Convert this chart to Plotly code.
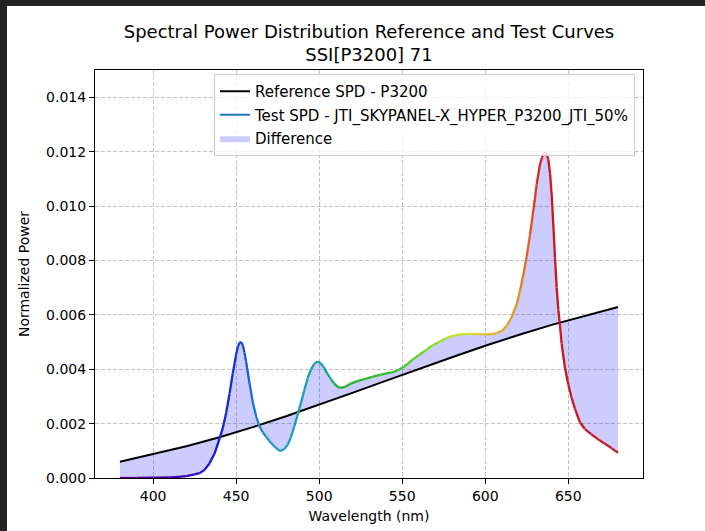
import plotly.graph_objects as go

# ---------------- data ----------------
ref_wl = [380, 400, 420, 440, 460, 480, 500, 520, 540, 560, 580, 600, 620, 640, 660, 680]
ref_val = [0.00060, 0.00088, 0.00117, 0.00150, 0.00187, 0.00227, 0.00269, 0.00313,
           0.00357, 0.00401, 0.00444, 0.00486, 0.00526, 0.00563, 0.00597, 0.00629]

test_wl = [380, 390, 400, 410, 415, 420, 425, 428, 431, 434, 437, 440, 442, 444, 446, 448,
           450, 451, 452, 453, 454, 455, 456, 458, 460, 462, 464, 466, 468, 470, 473, 476,
           477, 479, 481, 483, 485, 487, 489, 491, 493, 495, 497, 499, 501, 503, 505, 507,
           509, 511, 513, 516, 519, 523, 527, 532, 537, 543, 547, 550, 553, 556, 560, 564,
           568, 572, 576, 580, 584, 588, 592, 596, 600, 604, 607, 610, 613, 616, 619, 621,
           623, 625, 627, 629, 631, 633, 635, 636, 637, 638, 639, 640, 641, 642, 643, 644,
           645, 646, 648, 650, 652, 654, 657, 660, 664, 668, 672, 676, 680]
test_val = [0.00000, 0.00000, 0.00001, 0.00002, 0.00004, 0.00007, 0.00013, 0.00018, 0.00030,
            0.00054, 0.00090, 0.00145, 0.00185, 0.00240, 0.00310, 0.00385, 0.00455, 0.00482,
            0.00498, 0.00500, 0.00488, 0.00462, 0.00428, 0.00350, 0.00280, 0.00228, 0.00190,
            0.00168, 0.00152, 0.00136, 0.00116, 0.00101, 0.00100, 0.00106, 0.00122, 0.00150,
            0.00190, 0.00232, 0.00276, 0.00322, 0.00366, 0.00398, 0.00420, 0.00428, 0.00422,
            0.00405, 0.00383, 0.00364, 0.00348, 0.00336, 0.00331, 0.00336, 0.00347, 0.00356,
            0.00363, 0.00372, 0.00380, 0.00387, 0.00395, 0.00405, 0.00418, 0.00434, 0.00452,
            0.00469, 0.00486, 0.00500, 0.00513, 0.00522, 0.00527, 0.00529, 0.00530, 0.00529,
            0.00528, 0.00529, 0.00533, 0.00541, 0.00560, 0.00592, 0.00640, 0.00690, 0.00750,
            0.00815, 0.00895, 0.00985, 0.01080, 0.01155, 0.01193, 0.01196, 0.01190, 0.01170,
            0.01120, 0.01040, 0.00930, 0.00810, 0.00700, 0.00620, 0.00560, 0.00495, 0.00405,
            0.00345, 0.00295, 0.00255, 0.00205, 0.00180, 0.00160, 0.00142, 0.00126, 0.00110,
            0.00093]

x_ticks = [400, 450, 500, 550, 600, 650]
y_ticks = [0.000, 0.002, 0.004, 0.006, 0.008, 0.010, 0.012, 0.014]

title_text = "Spectral Power Distribution Reference and Test Curves<br>SSI[P3200] 71"
ref_name = "Reference SPD - P3200"
test_name = "Test SPD - JTI_SKYPANEL-X_HYPER_P3200_JTI_50%"
diff_name = "Difference"

# ---------------- styling helpers ----------------
color_anchors = [
    (380, (95, 0, 130)), (410, (75, 0, 160)), (425, (45, 10, 190)), (440, (20, 30, 210)),
    (452, (20, 60, 210)), (460, (30, 115, 210)), (470, (35, 150, 200)), (480, (35, 160, 190)),
    (495, (25, 160, 165)), (505, (30, 165, 140)), (512, (30, 175, 60)), (525, (40, 180, 40)),
    (545, (50, 195, 40)), (560, (100, 210, 40)), (575, (170, 225, 40)), (590, (210, 225, 50)),
    (600, (220, 195, 50)), (612, (228, 165, 40)), (620, (230, 140, 35)), (627, (225, 90, 30)),
    (632, (215, 40, 30)), (640, (205, 20, 25)), (680, (190, 35, 45)),
]


def wl_color(w):
    for (w0, c0), (w1, c1) in zip(color_anchors[:-1], color_anchors[1:]):
        if w0 <= w <= w1:
            t = (w - w0) / (w1 - w0)
            c = [round(a + (b - a) * t) for a, b in zip(c0, c1)]
            return "rgb(%d,%d,%d)" % tuple(c)
    return "rgb(%d,%d,%d)" % color_anchors[-1][1]


FONT = "DejaVu Sans"

fig = go.Figure()

fig.add_trace(go.Scatter(x=ref_wl, y=ref_val, mode="lines", name=ref_name, legendgroup="g1",
                         line=dict(color="black", width=2), legendrank=1, hoverinfo="skip"))
fig.add_trace(go.Scatter(x=test_wl, y=test_val, mode="lines", name=diff_name, legendgroup="g3",
                         fill="tonexty", fillcolor="rgba(0,0,255,0.2)",
                         line=dict(width=0, color="rgba(0,0,255,0.2)"), legendrank=3,
                         hoverinfo="skip"))
fig.add_trace(go.Scatter(x=[None], y=[None], mode="lines", name=test_name, legendgroup="g2",
                         line=dict(color="#1f77b4", width=2), legendrank=2))

for i in range(len(test_wl) - 1):
    mid = 0.5 * (test_wl[i] + test_wl[i + 1])
    fig.add_trace(go.Scatter(x=test_wl[i:i + 2], y=test_val[i:i + 2], mode="lines",
                             line=dict(color=wl_color(mid), width=2.3),
                             showlegend=False, hoverinfo="skip"))

L, R, T, B = 95, 62, 70, 53
W, H = 705, 531
pw, ph = W - L - R, H - T - B


def px_x(p):
    return (p - L) / pw


def px_y(p):
    return (H - B - p) / ph


dark = "#212121"
fig.add_shape(type="rect", xref="paper", yref="paper", x0=px_x(-5), x1=px_x(W + 5),
              y0=px_y(6), y1=px_y(-5), fillcolor=dark, line=dict(width=0), layer="above")
fig.add_shape(type="rect", xref="paper", yref="paper", x0=px_x(-5), x1=px_x(7),
              y0=px_y(H + 5), y1=px_y(-5), fillcolor=dark, line=dict(width=0), layer="above")

axis_common = dict(showline=True, linecolor="black", linewidth=1, mirror=True,
                   ticks="outside", ticklen=5, tickwidth=1, tickcolor="black",
                   showgrid=True, gridcolor="rgba(176,176,176,0.75)", gridwidth=1,
                   griddash="4px,2px", zeroline=False, automargin=False,
                   tickfont=dict(family=FONT, size=14, color="black"))

fig.update_layout(
    width=W, height=H,
    margin=dict(l=L, r=R, t=T, b=B, autoexpand=False),
    paper_bgcolor="white", plot_bgcolor="white",
    font=dict(family=FONT, size=14, color="black"),
    title=dict(text=title_text, x=0.5, xref="paper", xanchor="center",
               y=1 - 38 / H, yanchor="middle", yref="container",
               font=dict(family=FONT, size=18, color="black")),
    xaxis=dict(range=[365, 695], tickvals=x_ticks,
               title=dict(text="Wavelength (nm)", font=dict(family=FONT, size=14), standoff=8),
               **axis_common),
    yaxis=dict(range=[0, 0.015], tickvals=y_ticks, tickformat=".3f",
               title=dict(text="Normalized Power", font=dict(family=FONT, size=14), standoff=13),
               **axis_common),
    legend=dict(x=px_x(635), xanchor="right", y=px_y(74), yanchor="top",
                bgcolor="rgba(255,255,255,0.8)", bordercolor="#cccccc", borderwidth=1,
                font=dict(family=FONT, size=15, color="black"), traceorder="grouped",
                tracegroupgap=1),
    showlegend=True,
)

fig.write_html("out.html")
